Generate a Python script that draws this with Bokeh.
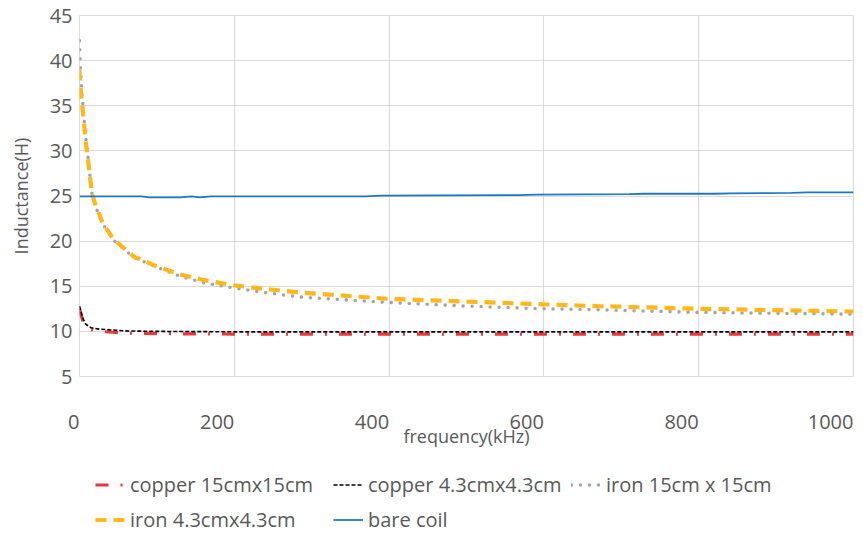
from bokeh.plotting import figure
from bokeh.layouts import column
from bokeh.models import Legend, LegendItem, FixedTicker, Range1d
from bokeh.embed import file_html
from bokeh.resources import INLINE

# ---- data ----
iron_freq = [0, 1, 3, 5, 8, 11, 16, 20, 30, 44, 70, 100, 130, 160, 200, 240, 285, 400, 500, 600, 668, 800, 1000]
iron_15 = [42.2, 39.5, 36.5, 34.5, 31.5, 29.3, 25.3, 24.0, 21.9, 20.1, 18.2, 17.1, 16.1, 15.4, 14.8, 14.3, 13.8, 13.2, 12.8, 12.5, 12.4, 12.1, 11.9]
iron_43 = [39.0, 37.5, 35.5, 33.8, 31.0, 29.0, 25.3, 24.2, 22.0, 20.2, 18.3, 17.2, 16.3, 15.7, 15.1, 14.7, 14.3, 13.6, 13.3, 13.0, 12.8, 12.5, 12.2]

copper_freq = [0, 2, 5, 8, 15, 25, 43, 60, 100, 200, 400, 600, 800, 1000]
copper_15 = [12.5, 11.8, 11.0, 10.6, 10.2, 10.0, 9.9, 9.8, 9.75, 9.7, 9.7, 9.7, 9.7, 9.7]
copper_43 = [12.8, 12.2, 11.3, 10.8, 10.4, 10.25, 10.15, 10.05, 10.0, 9.95, 9.95, 9.95, 9.95, 9.95]

bare_freq = [0, 80, 90, 130, 145, 155, 170, 370, 390, 570, 590, 710, 730, 820, 840, 920, 940, 1000]
bare_coil = [24.95, 24.95, 24.85, 24.85, 24.95, 24.85, 24.95, 24.95, 25.05, 25.1, 25.15, 25.2, 25.25, 25.25, 25.3, 25.35, 25.4, 25.4]

x_ticks = [0, 200, 400, 600, 800, 1000]
y_ticks = [5, 10, 15, 20, 25, 30, 35, 40, 45]

series_names = ["copper 15cmx15cm", "copper 4.3cmx4.3cm", "iron 15cm x 15cm", "iron 4.3cmx4.3cm", "bare coil"]
series_x = [copper_freq, copper_freq, iron_freq, iron_freq, bare_freq]
series_y = [copper_15, copper_43, iron_15, iron_43, bare_coil]

FONT = "Open Sans"
TXT = "#595959"
GRID = "#d9d9d9"

styles = [
    dict(line_color="#e8383d", line_width=3.2, line_dash="13 12 2 12"),
    dict(line_color="#000000", line_width=1.6, line_dash="4 2"),
    dict(line_color="#a5a5a5", line_width=3.6, line_dash="0 9", line_cap="round"),
    dict(line_color="#ffb81c", line_width=4.2, line_dash="11 7"),
    dict(line_color="#1f77c4", line_width=1.8),
]

# ---------------- main chart ----------------
p = figure(width=863, height=460, x_range=(x_ticks[0], x_ticks[-1]), y_range=(y_ticks[0], y_ticks[-1]),
           output_backend="svg", toolbar_location=None,
           min_border_left=79, min_border_right=10, min_border_top=15, min_border_bottom=84)

p.outline_line_color = GRID
p.outline_line_width = 1
p.xgrid.grid_line_color = GRID
p.ygrid.grid_line_color = GRID
p.xaxis.ticker = FixedTicker(ticks=x_ticks)
p.yaxis.ticker = FixedTicker(ticks=y_ticks)

for ax in (p.xaxis[0], p.yaxis[0]):
    ax.axis_line_color = None
    ax.major_tick_line_color = None
    ax.minor_tick_line_color = None
    ax.major_tick_out = 0
    ax.major_tick_in = 0
    ax.minor_tick_out = 0
    ax.minor_tick_in = 0
    ax.major_label_text_font = FONT
    ax.major_label_text_font_size = "20px"
    ax.major_label_text_color = TXT
    ax.axis_label_text_font = FONT
    ax.axis_label_text_font_size = "18px"
    ax.axis_label_text_font_style = "normal"
    ax.axis_label_text_color = TXT

p.xaxis.axis_label = "frequency(kHz)"
p.yaxis.axis_label = "Inductance(H)"
# x tick labels sit just left of their gridlines in the reference (right-aligned)
p.xaxis.major_label_orientation = 0.0001
p.xaxis.major_label_standoff = 45
p.xaxis.axis_label_standoff = -15
p.yaxis.major_label_standoff = 7
p.yaxis.axis_label_standoff = 14

for xs, ys, st in zip(series_x, series_y, styles):
    p.line(xs, ys, **st)

# ---------------- legend strip ----------------
# same series, drawn in a strip whose view lies outside the data, so only the legend shows
lg = figure(width=863, height=73, x_range=Range1d(x_ticks[0], x_ticks[-1]), y_range=Range1d(-2, -1),
            output_backend="svg", toolbar_location=None,
            x_axis_location=None, y_axis_location=None,
            min_border_left=0, min_border_right=0, min_border_top=0, min_border_bottom=0)
lg.outline_line_color = None
lg.xgrid.visible = False
lg.ygrid.visible = False
legend_renderers = [lg.line(xs, ys, **st) for xs, ys, st in zip(series_x, series_y, styles)]

legend = Legend(items=[LegendItem(label=n, renderers=[r]) for n, r in zip(series_names, legend_renderers)],
                location=(16, 0), orientation="horizontal", ncols=3,
                label_text_font=FONT, label_text_font_size="20px", label_text_color=TXT,
                glyph_width=30, glyph_height=27, label_height=27, label_width=195,
                label_standoff=5, spacing=8,
                padding=0, margin=0, border_line_color=None, background_fill_alpha=0)
lg.add_layout(legend, "center")

layout = column(p, lg, spacing=0)
open("out.html", "w").write(file_html(layout, INLINE))
